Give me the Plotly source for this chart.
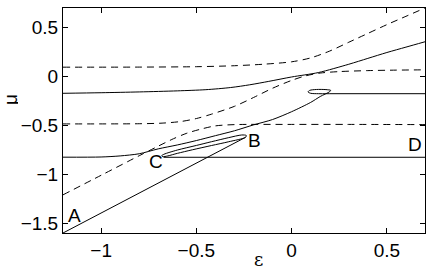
import plotly.graph_objects as go

# ---------------- data ----------------
# dashed curve: upper branch (flat ~0.1, then rising to top-right)
dash_top_x = [-1.2, -0.8, -0.5, -0.3, -0.15, 0.0, 0.1, 0.2, 0.3, 0.4, 0.5, 0.6, 0.7]
dash_top_y = [0.095, 0.096, 0.10, 0.11, 0.125, 0.15, 0.19, 0.26, 0.35, 0.44, 0.53, 0.615, 0.70]

# dashed curve: middle branch (flat -0.485, diagonal, flat ~0.065)
dash_mid_x = [-1.2, -0.8, -0.68, -0.58, -0.5, -0.42, -0.3, -0.2, -0.1, 0.0, 0.07, 0.15, 0.25, 0.4, 0.55, 0.7]
dash_mid_y = [-0.485, -0.483, -0.477, -0.46, -0.43, -0.385, -0.305, -0.215, -0.12, -0.04, 0.005, 0.035, 0.05, 0.06, 0.065, 0.068]

# dashed curve: lower branch (diagonal, then flat -0.49)
dash_low_x = [-1.2, -1.0, -0.8, -0.7, -0.62, -0.55, -0.48, -0.4, -0.3, 0.0, 0.3, 0.7]
dash_low_y = [-1.21, -1.01, -0.81, -0.712, -0.636, -0.58, -0.54, -0.505, -0.492, -0.49, -0.49, -0.492]

# solid curve starting at -0.17 on the left
s1_x = [-1.2, -1.0, -0.8, -0.6, -0.45, -0.32, -0.22, -0.12, 0.0, 0.14, 0.3, 0.4, 0.5, 0.6, 0.7]
s1_y = [-0.172, -0.166, -0.158, -0.147, -0.135, -0.113, -0.085, -0.05, -0.005, 0.04, 0.125, 0.185, 0.245, 0.30, 0.355]

# solid curve starting at -0.83 on the left, rising to the small loop, then flat
s2_x = [-1.2, -1.0, -0.9, -0.8, -0.7, -0.6, -0.5, -0.4, -0.3, -0.2, -0.1, 0.0, 0.1, 0.15, 0.2,
        0.205, 0.18, 0.13, 0.095, 0.086, 0.1, 0.14, 0.2]
s2_y = [-0.825, -0.823, -0.812, -0.79, -0.74, -0.70, -0.655, -0.605, -0.555, -0.495, -0.44, -0.36, -0.265, -0.205, -0.155,
        -0.142, -0.134, -0.133, -0.142, -0.158, -0.172, -0.176, -0.176]
s2_flat_x = [0.2, 0.7]
s2_flat_y = [-0.176, -0.176]

# straight branch A -> B
ab_x = [-1.2, -0.242]
ab_y = [-1.6, -0.622]

# narrow loop between C and B
loop_x = [-0.242, -0.33, -0.421, -0.52, -0.6, -0.65, -0.676, -0.682, -0.67, -0.6, -0.5, -0.421, -0.33, -0.262, -0.238, -0.242]
loop_y = [-0.622, -0.667, -0.706, -0.749, -0.786, -0.812, -0.82, -0.81, -0.795, -0.752, -0.705, -0.667, -0.625, -0.598, -0.603, -0.622]

# flat branch C -> D
cd_x = [-0.672, 0.7]
cd_y = [-0.826, -0.826]

# point labels
label_text = ["A", "B", "C", "D"]
label_x = [-1.139, -0.194, -0.710, 0.646]
label_y = [-1.423, -0.651, -0.868, -0.694]

x_ticks = [-1, -0.5, 0, 0.5]
x_tick_text = ["\u22121", "\u22120.5", "0", "0.5"]
y_ticks = [-1.5, -1, -0.5, 0, 0.5]
y_tick_text = ["\u22121.5", "\u22121", "\u22120.5", "0", "0.5"]

# ---------------- figure ----------------
FONT = "Liberation Sans, Arial, Helvetica, sans-serif"
DASH = "7px,5px"
W, H = 436, 268
ML, MR, MT, MB = 63, 11, 8, 35
PW, PH = W - ML - MR, H - MT - MB

fig = go.Figure()

def add(x, y, dash="solid", shape="spline"):
    fig.add_trace(go.Scatter(x=x, y=y, mode="lines",
                             line=dict(color="black", width=1, dash=dash, shape=shape, smoothing=0.8),
                             showlegend=False, hoverinfo="skip"))

add(dash_top_x, dash_top_y, DASH)
add(dash_mid_x, dash_mid_y, DASH)
add(dash_low_x, dash_low_y, DASH)
add(s1_x, s1_y)
add(s2_x, s2_y)
add(s2_flat_x, s2_flat_y, shape="linear")
add(ab_x, ab_y, shape="linear")
add(loop_x, loop_y)
add(cd_x, cd_y, shape="linear")

for t, x, y in zip(label_text, label_x, label_y):
    fig.add_annotation(x=x, y=y, text=t, showarrow=False,
                       font=dict(family=FONT, size=19, color="black"),
                       xanchor="center", yanchor="middle")

def paper_xy(px, py):
    # page pixel -> paper coordinates
    return (px - ML) / PW, (MT + PH - py) / PH

ex, ey = paper_xy(258, 259)
fig.add_annotation(xref="paper", yref="paper", x=ex, y=ey, height=14,
                   text="\u03b5", showarrow=False, xanchor="center", yanchor="middle",
                   font=dict(family="DejaVu Serif, serif", size=18, color="black"))
mx, my = paper_xy(10, 100)
fig.add_annotation(xref="paper", yref="paper", x=mx, y=my, height=16,
                   text="\u03bc", showarrow=False, xanchor="center", yanchor="middle", textangle=-90,
                   font=dict(family=FONT, size=19, color="black"))

axis_common = dict(showline=True, linecolor="black", linewidth=1, mirror="ticks",
                   ticks="inside", ticklen=5, tickcolor="black", tickwidth=1,
                   showgrid=False, zeroline=False, automargin=False,
                   tickfont=dict(family=FONT, size=19, color="black"))

fig.update_xaxes(range=[-1.2, 0.7], tickvals=x_ticks, ticktext=x_tick_text, **axis_common)
fig.update_yaxes(range=[-1.6, 0.7], tickvals=y_ticks, ticktext=y_tick_text, **axis_common)

fig.update_layout(template="none", width=W, height=H, margin=dict(l=ML, r=MR, t=MT, b=MB),
                  paper_bgcolor="white", plot_bgcolor="white", hovermode=False)

fig.write_html("out.html",
               config={"displayModeBar": False, "staticPlot": True},
               post_script="document.body.style.margin='0';document.body.style.overflow='hidden';")
